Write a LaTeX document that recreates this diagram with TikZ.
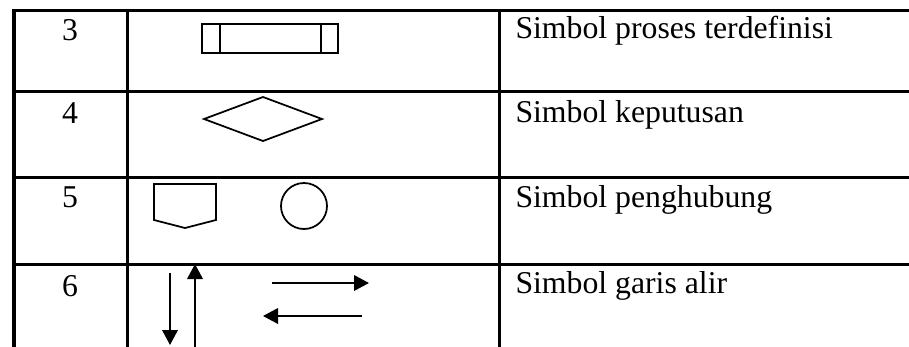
\documentclass[tikz,border=0pt]{standalone}
\usepackage{fontspec}
\setmainfont{Liberation Serif}
\usetikzlibrary{arrows.meta}

\begin{document}
\begin{tikzpicture}[x=0.4pt, y=-0.4pt, font=\fontsize{12.7}{15}\selectfont,
  grid/.style={line width=1.2pt},
  sym/.style={line width=0.7pt},
  flow/.style={line width=0.8pt, -{Triangle[length=6pt,width=6.2pt]}}]
\useasboundingbox (0,0) rectangle (909,347);

% Table lines
\draw[grid] (909,10) -- (14,10) -- (14,347);
\draw[grid] (127,10) -- (127,347);
\draw[grid] (499,10) -- (499,347);
\draw[grid] (14,91) -- (909,91);
\draw[grid] (14,177) -- (909,177);
\draw[grid] (14,264) -- (909,264);

% Numbers
\node[anchor=base] (num3) at (70,40) {3};
\node[anchor=base] (num4) at (70,123) {4};
\node[anchor=base] (num5) at (70,207) {5};
\node[anchor=base] (num6) at (70,296) {6};

% Descriptions
\node[anchor=base west, inner sep=0] (desc3) at (515,38) {Simbol proses terdefinisi};
\node[anchor=base west, inner sep=0] (desc4) at (515,122) {Simbol keputusan};
\node[anchor=base west, inner sep=0] (desc5) at (515,207) {Simbol penghubung};
\node[anchor=base west, inner sep=0] (desc6) at (515,293) {Simbol garis alir};

% Predefined process
\draw[sym] (202,24) rectangle (338,53);
\draw[sym] (220,24) -- (220,53);
\draw[sym] (321,24) -- (321,53);

% Decision
\draw[sym] (204,119) -- (263,97) -- (322,119) -- (263,141) -- cycle;

% Connectors
\draw[sym] (154,184) -- (216,184) -- (216,220) -- (185,228) -- (154,220) -- cycle;
\draw[sym] (304,206) circle[radius=23];

% Flow lines
\draw[flow] (170,273) -- (170,345);
\draw[flow] (195,347) -- (195,264);
\draw[flow] (272,283) -- (369,283);
\draw[flow] (362,316) -- (263,316);

\end{tikzpicture}
\end{document}
